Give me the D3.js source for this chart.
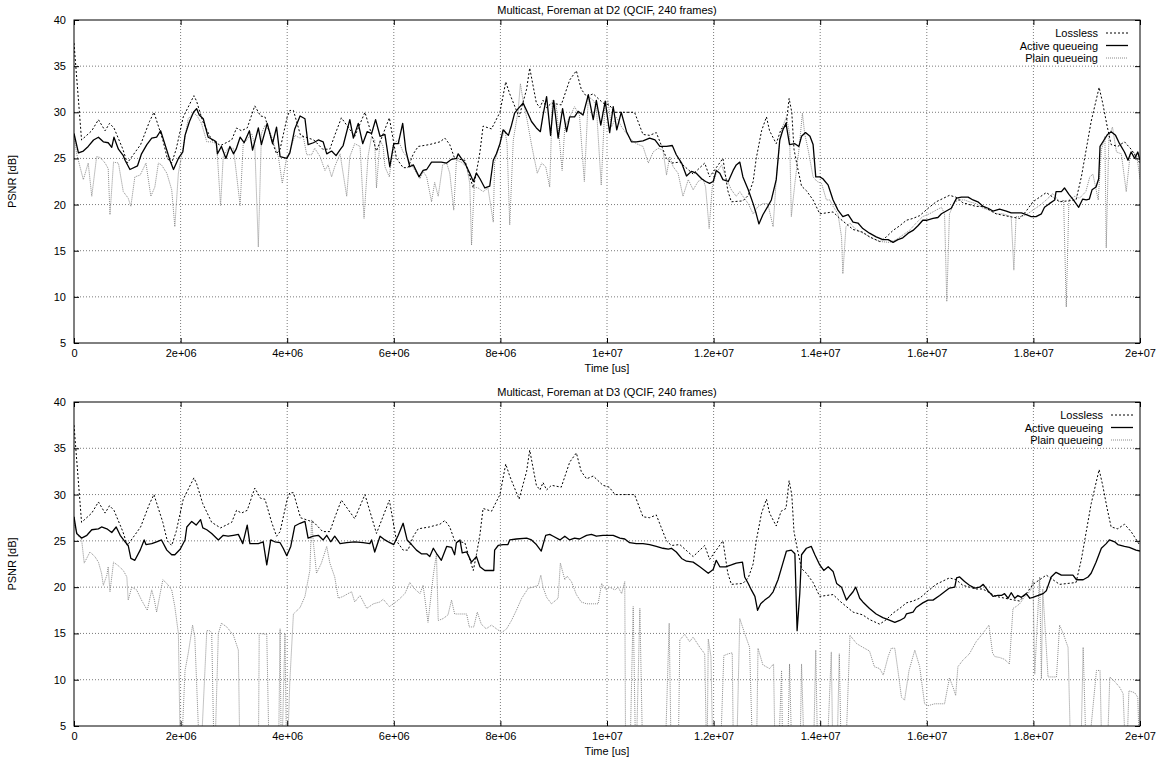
<!DOCTYPE html>
<html><head><meta charset="utf-8">
<script src="https://cdn.jsdelivr.net/npm/d3@7"></script>
<style>
body{margin:0;background:#fff}
svg{display:block}
text{font-family:"Liberation Sans",Arial,Helvetica,sans-serif;fill:#000}
</style>
</head><body>
<svg id="c" width="1160" height="757"></svg>
<script>
// ---------- data ----------
const FRAME_US = 2e7 / 240;              // 240 frames over 20 s
const xTicks = [0,2e6,4e6,6e6,8e6,1e7,1.2e7,1.4e7,1.6e7,1.8e7,2e7];
const xTickLabels = ["0","2e+06","4e+06","6e+06","8e+06","1e+07","1.2e+07","1.4e+07","1.6e+07","1.8e+07","2e+07"];
const yTicks = [5,10,15,20,25,30,35,40];
const panelTitles = ["Multicast, Foreman at D2 (QCIF, 240 frames)","Multicast, Foreman at D3 (QCIF, 240 frames)"];
const seriesNames = ["Lossless","Active queueing","Plain queueing"];
const xLabel = "Time [us]";
const yLabel = "PSNR [dB]";

// [frame, PSNR dB]; values below 5 dB run off the axis
const lossless = [[0,37.5],[1.7,27],[4,28],[5.5,29.2],[7,28],[8,28.8],[9,28.3],[11,26],[12,24.5],[15,26.5],[17,29],[18,30],[20,27],[21,25],[22,24.5],[23,26],[24.6,29.5],[27,31.8],[27.6,31.2],[29,29],[31,27],[33,26.4],[35.5,27],[36.6,28.3],[37.7,28],[39,28.3],[40.7,30.7],[42,29.6],[43,29.5],[44.5,27],[45.6,25.5],[46.4,26],[48,29.5],[48.6,30.2],[49.4,30.2],[51,27.5],[54,27],[56,26],[57.6,26],[58.7,27.5],[60.2,29.4],[63.2,27.4],[65.5,30],[68.1,25.8],[71,29.4],[72.6,25],[74.1,24],[75.2,24],[76.4,25.5],[77.5,26.3],[80,26.5],[82.4,26.8],[83.5,27.2],[84.6,26.5],[85.7,25],[88,24.8],[89.1,23],[89.9,21.8],[90.6,23.5],[91.4,25.7],[92.1,28.5],[94,28.2],[95.9,30],[97.2,33.3],[98.1,32],[100.2,29.5],[101.9,32.5],[102.6,34.8],[104.1,31],[104.9,30.5],[105.6,31.3],[106.4,30.5],[107.5,31],[109.7,30.8],[111.6,33.5],[113.1,34.5],[114.2,32.5],[115.4,31.7],[116.9,32],[119.1,31],[120.5,30.8],[121.8,30],[126.2,30],[128.1,27.6],[129.6,27.5],[131.1,27.8],[133.4,25],[134.5,24.5],[136.4,24.6],[139.4,23.3],[142,24.5],[143.1,23],[144.6,24],[146.1,25],[147.2,21.5],[148,20.3],[150.6,20.4],[151.8,21],[152.9,22.5],[153.6,25],[154.8,28],[155.9,29.5],[156.6,28],[158.1,26.6],[159.2,28.2],[160.3,28.5],[161,31.5],[161.6,30],[162.1,26],[162.9,24],[163.8,22],[164.9,21.5],[166.4,20.5],[167.9,19],[170.9,19.2],[172.4,18.5],[175.4,17.3],[177.6,17],[179.1,16.5],[181.4,16],[182.9,16.5],[184.4,17.2],[185.9,17.7],[187.4,18.3],[188.9,18.5],[190.4,18.8],[192.3,19.6],[194.1,20.3],[197.1,21],[198.6,20.8],[200.1,20.2],[203.1,19.8],[204.6,19.8],[207.6,19],[210.6,18.7],[212.9,18.5],[214.4,19.3],[215.9,20.3],[218.9,21.3],[221.9,20.3],[225.6,20.5],[226.8,23],[227.9,26],[229,29],[230.8,32.7],[231.6,31],[232.6,28.5],[233.5,26.5],[235,26.3],[236.5,26.8],[238,26],[240,24.5]];

const activeD2 = [[0,27.7],[1,25.6],[2.1,25.8],[3.2,26.3],[4.4,27],[5.5,27.3],[6.6,26.8],[7.7,26.7],[8.5,26.2],[9,27.3],[10,26],[11.1,25.3],[11.5,24.8],[12.6,23.8],[14.3,24.2],[15.2,25.5],[16.4,26.5],[17.5,27.2],[18.6,27.3],[19.5,28],[20.5,26.5],[21.6,24.8],[22.4,23.8],[23.5,25],[24.5,25.7],[25,27.5],[26,29],[26.9,30],[27.6,30.4],[28.2,29.7],[29.1,29.3],[30.2,27.3],[31.4,27],[32,26.8],[32.3,25.5],[33.2,26.3],[34.2,25],[35.1,26.3],[35.9,25.5],[36.5,26],[37.4,27.3],[38.3,26.7],[39.5,28],[40.2,25.9],[41.5,28.3],[42.2,26.5],[43.5,28.8],[44.7,26.6],[45.6,28.4],[46.4,25.2],[47.9,25],[48.6,25.6],[49.7,28.2],[50.9,29.6],[52,29.3],[52.7,26.5],[53.9,26.7],[55,27],[56.1,26.8],[56.9,25.5],[58,25.8],[59,25.3],[60,26],[60.6,26.4],[62.1,29.2],[62.9,27.2],[64,28.8],[65,26.6],[66,27.9],[67,27.7],[67.9,29.2],[68.9,27.4],[70,27.6],[71.1,24.1],[72,26.6],[73,26.6],[74,28.8],[74.7,25.9],[75.6,24.1],[76.4,24.3],[77.7,23],[78.6,23.7],[79.4,23.8],[80.5,24.6],[81.6,24.6],[82.7,24.6],[83.9,24.5],[85,24.9],[86.1,25],[86.5,25.5],[87.2,25],[88,24.5],[89.1,23.4],[89.9,22.5],[90.6,23.4],[91.4,22.8],[92.5,21.8],[93.6,22],[94.4,24.8],[95.1,25.5],[95.9,26.6],[96.6,28.1],[97.8,27.5],[98.5,28.6],[99.2,29.9],[100,30.4],[101.1,31],[101.9,30.2],[103,29],[104.1,28.3],[105,27.9],[105.6,29.7],[106.4,31.7],[107.3,27.5],[108,31.3],[109,27.2],[110,30.4],[110.9,27.9],[111.6,29.5],[112.7,29.5],[113.5,30.1],[114.6,29.7],[115.8,31.9],[116.9,29.2],[117.6,31.3],[118.6,28.6],[119.6,31.2],[120.6,27.8],[121.4,30.6],[122.2,28.1],[123.2,30],[124.4,27.9],[125.5,26.8],[126.6,26.8],[128.1,26.9],[129.6,27.2],[130.8,27],[131.9,26.3],[133.4,26.3],[134.7,26.4],[135.6,25.4],[136.8,24.5],[137.9,23.1],[139,23.6],[140.1,23.4],[141.3,22.8],[142.2,22.5],[143.1,22.3],[143.9,22.5],[144.6,23.7],[145.4,23.4],[146.1,22.7],[147.3,22.5],[148.4,23.7],[149.1,24.3],[149.9,24.6],[150.6,23],[151.8,21.6],[152.9,20.1],[153.6,19],[154.2,17.9],[155.1,18.9],[156.2,19.8],[157,20.5],[158.1,22.7],[158.9,27],[159.6,28.1],[160.3,28.8],[161.1,26.5],[162.3,26.6],[163.2,26.3],[163.8,27.4],[164.7,27.8],[165.7,27.4],[166.4,26.5],[167,23],[167.9,23],[168.6,22.8],[169.8,22.1],[170.9,20.5],[172,19.4],[173.1,18.7],[174.3,18.9],[175.4,18.1],[176.5,18],[177.6,17.4],[179.1,16.9],[180.6,16.5],[182.1,16.2],[183.3,16.2],[184.4,15.9],[185.5,16.2],[186.6,16.4],[187.8,16.9],[188.9,17.2],[190,17.7],[191.1,18.3],[191.9,18.3],[193.4,18.5],[194.5,18.6],[195.3,19],[196.4,19.3],[197.5,19.6],[198.7,20.7],[199.8,20.8],[201.3,20.8],[202.4,20.5],[203.5,20.3],[204.7,19.8],[205.8,19.6],[206.9,19.3],[208.4,19.5],[209.9,19.3],[211,19.1],[212.1,19.1],[213.3,19.1],[214.4,18.9],[215.5,18.7],[216.6,18.7],[217.8,19],[218.5,19.7],[219.6,20.1],[220.8,20.5],[221.1,21.4],[222.3,21.4],[223,21.8],[224,21.1],[225,20.5],[226.2,19.7],[227.1,20.6],[227.9,20.5],[228.6,20.6],[229.2,21.6],[230.1,21.9],[230.7,22.8],[231,26.3],[231.9,27],[232.7,27.6],[233.5,27.9],[234.5,27.5],[235.4,26.6],[236.5,25.7],[237.3,24.8],[238,25.7],[238.8,25],[239.5,25.7],[240,24.8]];

const plainD2 = [[0,27.5],[0.6,25.5],[2.1,22.7],[3.2,24.5],[4,20.9],[5.1,25.2],[5.9,25.1],[7,24.5],[7.7,23.9],[8.1,18.9],[8.9,24.6],[10,24.5],[11.1,21.4],[12.2,20.7],[12.8,19.8],[13.7,23],[14.9,23.2],[16.2,24.5],[17.3,20.9],[18.2,21.9],[19,24.5],[19.7,24.3],[20.9,23.4],[22,21.6],[22.7,17.6],[23.5,23.4],[24.6,26.3],[25.7,29.3],[26.9,29.9],[27.6,29.7],[28.7,28.8],[29.9,26.8],[31,26.8],[32.1,26.6],[33,19.9],[33.6,25.2],[34.7,26.1],[35.9,26.1],[37.4,19.9],[38.1,26.6],[38.9,27],[40,27.7],[40.7,26.5],[41.5,15.4],[42.2,27.7],[43,28.6],[44.1,27.9],[45.2,26.3],[46,25.2],[46.9,22.3],[47.9,25.2],[48.6,25.7],[49.7,27.5],[50.9,27.2],[51.6,27.4],[52.4,25.4],[53.5,25.4],[54.2,26.1],[55.4,25.2],[56.5,23.7],[57.2,24.3],[58,23],[58.7,24.1],[59.9,25.5],[61.4,20.9],[62.1,25.2],[63.2,26.6],[64.4,26.3],[65.3,18.5],[66.2,25.2],[67,27.4],[67.7,27],[68.1,21.8],[68.9,27],[69.6,26.3],[70,24.1],[71,23],[71.9,26.6],[73,27],[74.1,25.7],[74.9,25.2],[76,24.3],[77.1,23.4],[77.9,22.8],[78.6,23.6],[79.4,23],[80.5,20.3],[81.2,22.4],[82,20.9],[83,24.3],[83.9,24.5],[84.6,23.4],[85.5,19.4],[86.1,24.8],[87.2,24.6],[88.4,24.1],[89.1,22.3],[89.5,15.6],[90.1,21.9],[91,21.8],[92.1,21.4],[93.2,21.8],[94.4,18.1],[94.7,24.6],[95.9,26.6],[97,28.1],[97.5,26.6],[98.1,17.8],[98.9,27],[100,30.2],[100.5,33.1],[101.1,31.3],[102,29.2],[103,26.5],[104.3,23.4],[105.3,24.5],[106.2,24.1],[107.1,21.9],[107.7,31.3],[108.6,30.6],[109.9,23.7],[110.5,28.4],[111.6,29.5],[112.7,30.6],[113.8,29.7],[114.9,22.5],[115.8,31.7],[116.9,31.3],[117.6,30.6],[118.7,22.1],[119.5,30.6],[120.2,31.3],[121,28.4],[122.1,29.5],[123.3,28.4],[124.4,27.7],[125.5,27],[126.6,26.6],[128.1,26.3],[129.3,24.5],[130.4,25.7],[131.5,26.1],[132.6,25.9],[133.4,23.2],[134.1,25.2],[134.9,24.1],[136,23.4],[137.1,20.9],[138.3,22.7],[139.4,21.6],[140.5,22.5],[141.6,22.8],[142.2,21.9],[143,17.4],[143.7,21.9],[144.6,23.4],[145.8,24.3],[146.7,23],[148,21.6],[149.1,20.9],[149.9,21.4],[150.6,20.9],[151.8,20.1],[152.9,19],[154,19.8],[155.1,20.1],[156.2,20.1],[157.4,17.6],[158.1,22.7],[158.9,27],[159.5,28.4],[160.4,29.5],[161.1,27.7],[161.5,18.7],[162.3,22.3],[163.2,25.9],[164,29.9],[164.5,27.7],[165.3,25.9],[166.4,23],[167.3,22.5],[168.3,22.3],[169.4,20.5],[170.2,20.5],[170.9,19.8],[172,19],[172.8,16.5],[173.1,12.5],[173.8,17.6],[174.7,18],[175.8,17.4],[176.9,17.1],[178.4,16.7],[179.9,16.3],[181.4,16],[183.6,15.9],[185.1,16.2],[186.6,16.7],[188.1,17.2],[189.6,18],[191.1,18.7],[192.6,19],[194.1,19.4],[195.3,19.7],[196,19],[196.5,9.5],[197.1,19],[198.3,20.3],[199.4,20.5],[200.5,20.5],[201.6,20.3],[203.1,20.1],[204.7,19.6],[206.1,19.4],[207.6,19],[209.1,19],[210.3,18.8],[211,18.7],[211.6,12.9],[212.1,18.7],[213.3,18.7],[214.4,18.9],[215.9,19.4],[217.4,19.9],[218.9,20.5],[220.4,21.2],[221.9,20.3],[222.8,20.5],[223.4,8.9],[224,20.5],[225.3,20.9],[226.4,20.7],[227.8,21.4],[228.7,23],[229.4,23.3],[230.6,20.5],[231.3,25.9],[232.1,27.4],[232.4,15.3],[233,27.4],[233.8,28.4],[234.7,25.7],[235.8,25.5],[236.9,21.4],[237.8,25.5],[238.6,25.7],[239.3,25.2],[240,22.8]];

const activeD3 = [[0,27.6],[0.6,25.8],[1.7,25.3],[2.9,25.6],[4,26.2],[5.5,26.3],[6.2,26.5],[7.4,26.3],[8.5,25.9],[9.5,26.5],[10.4,25.6],[11.5,24.9],[12.2,24.5],[12.8,23.1],[13.7,22.9],[14.9,24],[15.8,25.1],[16.2,24.6],[17.5,24.7],[18.6,24.9],[19.7,25.1],[20.9,24],[22,23.5],[22.7,23.5],[23.9,24.1],[25,25.1],[25.4,26.5],[26.5,27.1],[27.5,26.7],[28.5,27.3],[29,26.4],[29.9,26.2],[31,25.8],[32.5,25.1],[33.6,25.6],[34.7,25.5],[35.9,25.6],[37,25.7],[38,24.7],[39,26.7],[39.6,24.7],[41.5,24.7],[42.6,24.9],[43.4,22.4],[44.3,25.1],[45.2,24.9],[46.4,24.8],[47.1,24.2],[47.9,23.4],[48.8,24.4],[49.7,26.6],[50.9,26.9],[52,27.1],[52.7,25.3],[53.9,25.5],[55,25.6],[56.1,25.1],[56.9,25.6],[57.8,24.9],[58.7,25.5],[59.9,24.7],[61.4,24.8],[63.2,24.9],[65.1,24.8],[66.6,24.7],[67,25.1],[67.7,23.8],[68.9,25.5],[70,25.1],[71.1,24.8],[72,24.6],[73,25.6],[74.1,26.9],[75,25.1],[76,24.6],[77.1,24],[78.2,23.6],[79.4,23.6],[80.1,23.3],[80.9,24.2],[81.8,23.5],[82.7,22.9],[83.9,24.4],[85,24.3],[85.7,23.5],[86.1,24.8],[86.9,25.1],[87.4,23.7],[88.4,23.8],[89.5,22.7],[90.6,23.3],[91.4,22.2],[92.5,21.8],[93.6,21.8],[94.5,21.8],[94.7,24],[95.5,24.5],[96.6,24.6],[97.7,24.6],[98.1,25.1],[99.6,25.2],[101.9,25.3],[103,25.1],[104.1,24.6],[105.2,23.9],[106.2,25.6],[107.1,25.7],[107.9,25.5],[109.4,25.1],[110.5,25.5],[111.6,25.1],[112.7,25.3],[113.8,25.2],[115.4,25.6],[116.5,25.7],[117.6,25.5],[119.1,25.6],[120.5,25.6],[121.4,25.6],[122.9,25.3],[124,25.2],[125.1,24.8],[126.6,24.7],[128.1,24.7],[129.6,24.6],[131.1,24.4],[132.6,24.2],[133.8,24.1],[134.5,24.2],[135.6,23.8],[136.8,23.1],[137.9,22.8],[139.4,22.7],[140.9,22.2],[142,21.8],[142.8,21.5],[143.9,21.9],[144.6,22.9],[145.4,22.2],[146.7,22.2],[148,22.4],[149.1,22.6],[150.5,22.7],[151,21.1],[151.8,20.4],[152.5,19.7],[153.3,19],[153.9,17.5],[154.6,18.2],[155.5,18.6],[156.6,19],[157.4,19.5],[158.5,20.8],[159.6,22.6],[160.4,23.9],[161.5,24],[162.3,23.6],[162.8,15.3],[163.4,19.3],[163.8,23.5],[164.9,24.2],[166,24.4],[166.8,23.5],[167.9,22.4],[168.8,21.8],[169.8,22.2],[170.9,21.7],[171.7,20.4],[172.8,20],[173.9,18.6],[174.7,19.1],[175.4,19.5],[176,20],[176.9,18.8],[177.6,18.4],[179.1,17.7],[180.6,17.1],[182.1,16.7],[183.3,16.5],[184.8,16.2],[185.9,16.4],[187,16.7],[187.4,17.1],[188.9,17.3],[189.6,17.8],[191.1,18.3],[192.3,18.6],[193.4,18.6],[194.9,19.1],[196,19.5],[197.1,19.9],[198.3,20],[198.7,21],[199.4,21.1],[200.5,20.6],[201.6,20.2],[202.8,19.9],[203.9,20],[204.7,20.3],[205.8,19.6],[206.9,19],[208,19.1],[208.8,19.1],[209.5,19.3],[210.3,18.8],[211,19.4],[211.8,18.8],[212.5,19.1],[213.3,18.9],[214.4,19.3],[215.2,18.8],[215.9,18.9],[217.1,19.1],[218.2,19.3],[218.9,19.6],[220,21.1],[221.1,21.6],[222.3,21.3],[223.8,21.3],[224.9,21.3],[225.7,20.8],[227.2,20.8],[228.3,21.1],[229,21.5],[230.1,22.7],[231.3,24.2],[232.4,24.7],[233.1,25.1],[234.3,24.9],[235,24.6],[236.5,24.4],[237.6,24.3],[239.1,24],[240,23.9]];

const plainD3 = [[0,27.6],[0.2,26.5],[1,25.5],[1.7,25.2],[2.3,22.6],[3.6,23.8],[4.7,23.3],[5.5,22.7],[6.2,21.5],[6.6,20.2],[7.4,21.3],[7.7,22.2],[8.1,19.5],[8.9,22.7],[10,22.3],[11.1,21.8],[11.9,21.1],[12.2,18.6],[13,20],[14.1,19.7],[15.2,18.6],[16.5,17.5],[17.5,19.7],[18.1,18.6],[18.6,17.3],[19.4,19.3],[20,20.8],[20.9,20.4],[22,19.7],[22.7,17.9],[23.5,15],[24,0],[25,11],[25.7,12.8],[26.7,15.9],[27.2,14.6],[28.4,0],[29.9,15.3],[30.5,15.3],[31,15.1],[31.6,0],[32.5,15],[33.2,16.1],[34.4,15.7],[35.9,14.8],[37,13.2],[37.4,0],[41.5,0],[41.7,15],[43.4,14.9],[44,0],[46,0],[46.4,15.5],[46.7,0],[47.5,15],[47.9,0],[48.6,9.9],[49.4,17.1],[50.9,17.8],[52,19],[53.1,21.8],[53.5,27.3],[53.9,24.8],[54.6,21.5],[55.7,22.6],[56.9,24.4],[57.6,22.6],[58.7,21.1],[59.5,18.8],[60.6,19],[61.7,19.3],[62.5,19.5],[63.2,18.4],[64.4,19.1],[65.9,17.7],[67.4,18.2],[68.9,18.4],[69.6,18.7],[71,17.9],[71.9,18.2],[73,18.6],[74.5,19.3],[75.6,20.5],[76.7,19.8],[77.9,19.3],[78.6,20.2],[79.7,16.2],[80.9,21.3],[81.6,23.6],[82,16.4],[83.1,16.6],[84.2,17],[85,18.6],[85.7,17.1],[86.5,17.1],[87.6,17.1],[88.4,17.1],[89,15.7],[90,15.7],[90.8,17.3],[91.7,16],[92.8,15.5],[94,15.9],[95.1,15.5],[96.3,15.1],[97.4,15.5],[98.5,16.4],[99.6,17.5],[100.8,18.8],[102.3,19.9],[103.4,20],[104.5,20.2],[105.1,21.3],[105.6,20],[106.4,18.9],[107.5,18.2],[109,18.8],[109.5,22.6],[110.5,20.8],[111,21.2],[112,20.6],[113.1,19.2],[114.2,18.4],[115.4,18.2],[116.9,18.2],[118,18.2],[118.8,20.4],[119.8,19.7],[120.6,20],[121.8,19.7],[122.5,20],[123.3,19.3],[124,20.6],[124.2,0],[125.1,0],[125.9,17.9],[126.5,0],[127.4,17.7],[128.1,0],[133,0],[134,16.1],[134.5,0],[136,0],[136.4,14.3],[137.5,14.9],[138.6,14.1],[139.4,14.6],[140.9,13.5],[142,12.8],[142.5,0],[142.8,14.4],[143.4,12.5],[143.9,0],[145.4,0],[146.3,12.6],[147.3,12.8],[148.2,12.9],[148.5,0],[149.1,0],[149.9,16.6],[151,15],[152.1,13.5],[152.9,0],[153.6,0],[154,13.4],[155.1,11.6],[156.6,11.2],[157.5,11.7],[157.9,0],[158.5,0],[159.3,11],[159.6,0],[160.6,0],[161.1,11.7],[161.7,0],[163.4,0],[163.8,11.7],[164.5,0],[166.4,0],[167,13.2],[167.5,0],[169.4,0],[170.5,13],[170.9,0],[171.7,0],[172.3,12.8],[172.8,0],[173.6,0],[174.7,14.8],[176.2,13.9],[177.6,13.5],[179.1,13.1],[180.2,11.4],[181.4,11.2],[182.2,10.5],[183.3,12.5],[184,13.4],[184.8,13.4],[185.5,11],[186.3,8.1],[187,7.8],[188,11],[189.3,13.2],[190.4,11.4],[191.5,7.4],[192.3,7.2],[193.8,7.4],[196,7.4],[197.1,10.2],[197.9,9.2],[198.5,8.3],[199,11.4],[200.1,12.1],[201.6,12.8],[203.1,14.1],[204.6,15],[206,15.9],[206.8,12.9],[207.3,12.5],[208.4,12.4],[209.5,12.2],[210.6,11.7],[211.4,17.7],[212.1,17.9],[212.9,18.2],[213.8,18.8],[214.8,19.3],[215.5,19.8],[215.9,20.8],[216.3,10.6],[217.4,21.1],[217.8,10.1],[218.1,19.8],[219.3,10.3],[221.2,10.3],[221.9,15.9],[222.7,15],[223.8,13.5],[224.5,0],[226.6,0],[227.2,13.5],[228,0],[230.2,11],[231,11],[231.5,0],[232.5,0],[233.2,10.3],[234.3,9.8],[235.4,9.2],[236.2,8.5],[236.9,0],[237.5,8.8],[238.8,8.6],[239.5,8.1],[240,0]];

// ---------- drawing ----------
const svg = d3.select("#c");
const left = 74, right = 1140;
const panels = [
  {top:20, bottom:343, title:panelTitles[0], data:[lossless, activeD2, plainD2], legendX:1098},
  {top:402, bottom:726, title:panelTitles[1], data:[lossless, activeD3, plainD3], legendX:1103}
];
const styles = [
  {stroke:"#000", width:1, dash:"2,2"},
  {stroke:"#000", width:1.3, dash:null},
  {stroke:"#8a8a8a", width:1, dash:"1,1"}
];

const x = d3.scaleLinear().domain([0,2e7]).range([left,right]);

panels.forEach((p,pi) => {
  const y = d3.scaleLinear().domain([5,40]).range([p.bottom,p.top]);
  const g = svg.append("g");
  const clipId = "clip"+pi;
  svg.append("clipPath").attr("id",clipId).append("rect")
    .attr("x",left).attr("y",p.top).attr("width",right-left).attr("height",p.bottom-p.top);

  // grid
  g.append("g").selectAll("line").data(xTicks.slice(1,-1)).join("line")
    .attr("x1",d=>x(d)).attr("x2",d=>x(d)).attr("y1",p.top).attr("y2",p.bottom)
    .attr("stroke","#7a7a7a").attr("stroke-width",1).attr("stroke-dasharray","1,2");
  g.append("g").selectAll("line").data(yTicks.slice(1,-1)).join("line")
    .attr("y1",d=>y(d)).attr("y2",d=>y(d)).attr("x1",left).attr("x2",right)
    .attr("stroke","#7a7a7a").attr("stroke-width",1).attr("stroke-dasharray","1,2");

  // axes with inward ticks
  const xAxB = d3.axisBottom(x).tickValues(xTicks).tickSize(-5).tickPadding(6).tickFormat((d,i)=>xTickLabels[i]);
  const xAxT = d3.axisTop(x).tickValues(xTicks).tickSize(-5).tickFormat("");
  const yAxL = d3.axisLeft(y).tickValues(yTicks).tickSize(-5).tickPadding(8).tickFormat(d3.format("d"));
  const yAxR = d3.axisRight(y).tickValues(yTicks).tickSize(-5).tickFormat("");
  [ [xAxB,`translate(0,${p.bottom})`], [xAxT,`translate(0,${p.top})`],
    [yAxL,`translate(${left},0)`], [yAxR,`translate(${right},0)`] ].forEach(([ax,tr])=>{
    const a = g.append("g").attr("transform",tr).call(ax);
    a.select(".domain").remove();
    a.selectAll("line").attr("stroke","#000");
    a.selectAll("text").attr("font-size","11px").attr("font-family","Liberation Sans, Arial, sans-serif").attr("fill","#000");
  });

  // series
  const line = d3.line().x(d=>x(d[0]*FRAME_US)).y(d=>y(d[1]));
  const sg = g.append("g").attr("clip-path",`url(#${clipId})`);
  [2,0,1].forEach(si=>{
    const st = styles[si];
    sg.append("path").datum(p.data[si]).attr("d",line)
      .attr("fill","none").attr("stroke",st.stroke).attr("stroke-width",st.width)
      .attr("stroke-dasharray",st.dash).attr("stroke-linejoin","round");
  });

  // border
  g.append("rect").attr("x",left).attr("y",p.top).attr("width",right-left).attr("height",p.bottom-p.top)
    .attr("fill","none").attr("stroke","#000").attr("stroke-width",1);

  // titles / labels
  g.append("text").attr("x",(left+right)/2).attr("y",p.top-6).attr("text-anchor","middle")
    .attr("font-size","11px").text(p.title);
  g.append("text").attr("x",(left+right)/2).attr("y",p.bottom+28.5).attr("text-anchor","middle")
    .attr("font-size","11px").text(xLabel);
  g.append("text").attr("transform",`translate(16,${(p.top+p.bottom)/2}) rotate(-90)`)
    .attr("text-anchor","middle").attr("font-size","11px").text(yLabel);

  // legend
  const lg = g.append("g");
  seriesNames.forEach((nm,i)=>{
    const yy = p.top + 13 + i*12.5;
    lg.append("text").attr("x",p.legendX).attr("y",yy+4).attr("text-anchor","end")
      .attr("font-size","11px").text(nm);
    const st = styles[i];
    lg.append("line").attr("x1",p.legendX+8).attr("x2",p.legendX+30).attr("y1",yy).attr("y2",yy)
      .attr("stroke",st.stroke).attr("stroke-width",st.width).attr("stroke-dasharray",st.dash);
  });
});
</script>
</body></html>
